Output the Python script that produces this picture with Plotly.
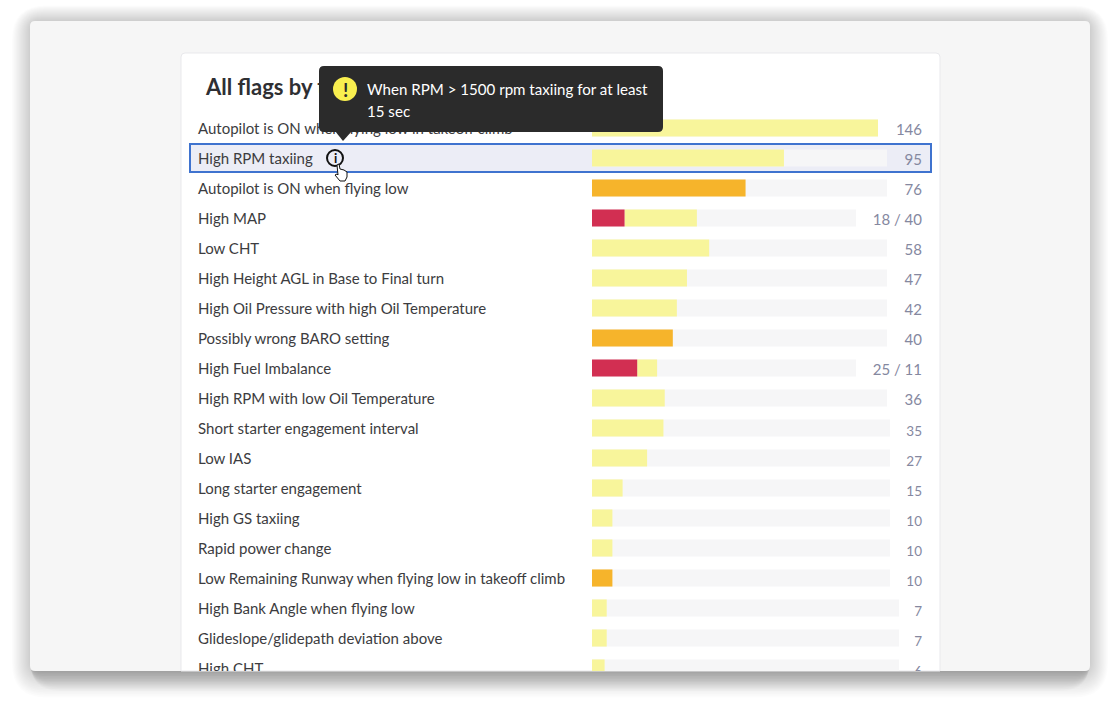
import plotly.graph_objects as go

# ---------- DATA ----------
flags = [
    "Autopilot is ON when flying low in takeoff climb",
    "High RPM taxiing",
    "Autopilot is ON when flying low",
    "High MAP",
    "Low CHT",
    "High Height AGL in Base to Final turn",
    "High Oil Pressure with high Oil Temperature",
    "Possibly wrong BARO setting",
    "High Fuel Imbalance",
    "High RPM with low Oil Temperature",
    "Short starter engagement interval",
    "Low IAS",
    "Long starter engagement",
    "High GS taxiing",
    "Rapid power change",
    "Low Remaining Runway when flying low in takeoff climb",
    "High Bank Angle when flying low",
    "Glideslope/glidepath deviation above",
    "High CHT",
]
red_counts = [0, 0, 0, 18, 0, 0, 0, 0, 25, 0, 0, 0, 0, 0, 0, 0, 0, 0, 0]
orange_counts = [0, 0, 76, 0, 0, 0, 0, 40, 0, 0, 0, 0, 0, 0, 0, 10, 0, 0, 0]
yellow_counts = [146, 95, 0, 40, 58, 47, 42, 0, 11, 36, 35, 27, 15, 10, 10, 0, 7, 7, 6]
count_labels = ["146", "95", "76", "18 / 40", "58", "47", "42", "40", "25 / 11", "36",
                "35", "27", "15", "10", "10", "10", "7", "7", "6"]

# ---------- STYLE ----------
# every row scales to its own track, which shrinks with the width of its label
track_px = [286, 295, 295, 264, 295, 295, 295, 295, 264, 295,
            298, 298, 298, 298, 298, 298, 307, 307, 307]
label_sizes = [15] * 10 + [13.5] * 9
MAX_COUNT = 146
W, H = 1120, 712
FONT = "Lato"
DARK = "#2b2b2b"


def px(v):
    return v / W


def py(v):
    return 1 - v / H


def rounded(x0, y0, x1, y1, r):
    x0, x1 = px(x0), px(x1)
    y0, y1 = py(y0), py(y1)
    rx, ry = r / W, r / H
    return (
        f"M{x0 + rx},{y0} L{x1 - rx},{y0} Q{x1},{y0} {x1},{y0 - ry} "
        f"L{x1},{y1 + ry} Q{x1},{y1} {x1 - rx},{y1} "
        f"L{x0 + rx},{y1} Q{x0},{y1} {x0},{y1 + ry} "
        f"L{x0},{y0 - ry} Q{x0},{y0} {x0 + rx},{y0} Z"
    )


def polygon(points):
    coords = [f"{px(a)},{py(b)}" for a, b in points]
    return "M" + " L".join(coords) + " Z"


def paper_shape(path, fill, layer="below", line=None, width=0, opacity=1):
    return dict(
        type="path", xref="paper", yref="paper", path=path, fillcolor=fill,
        layer=layer, opacity=opacity,
        line=dict(color=line or "rgba(0,0,0,0)", width=width),
    )


def scaled(counts):
    return [t * c / MAX_COUNT for t, c in zip(track_px, counts)]


rows = list(range(len(flags)))
red_len = scaled(red_counts)
orange_len = scaled(orange_counts)
yellow_len = scaled(yellow_counts)

fig = go.Figure()
# ---------- BARS ----------
bar_style = dict(y=rows, orientation="h", width=0.57, hoverinfo="skip", showlegend=False)
fig.add_trace(go.Bar(x=track_px, marker=dict(color="#f6f6f7", line_width=0), **bar_style))
fig.add_trace(go.Bar(x=yellow_len, base=red_len, marker=dict(color="#f8f59b", line_width=0), **bar_style))
fig.add_trace(go.Bar(x=red_len, marker=dict(color="#d22f52", line_width=0), **bar_style))
fig.add_trace(go.Bar(x=orange_len, marker=dict(color="#f6b42b", line_width=0), **bar_style))

# ---------- TEXT (traces, so the panel edge and the tooltip cut them) ----------
fig.add_trace(go.Scatter(
    x=[-394] * len(flags), y=[r + 0.06 for r in rows], text=flags, mode="text", textposition="middle right",
    textfont=dict(family=FONT, size=15, color="#3c3c40"),
    hoverinfo="skip", showlegend=False,
))
fig.add_trace(go.Scatter(
    x=[330] * len(flags), y=[r + (0.1 if r < 10 else 0.14) for r in rows], text=count_labels, mode="text",
    textposition="middle left",
    textfont=dict(family=FONT, size=label_sizes, color="#85889f"),
    hoverinfo="skip", showlegend=False,
))
fig.add_trace(go.Scatter(
    x=[-386], y=[-1.27], text=["All flags by t"], mode="text", textposition="middle right",
    textfont=dict(family=FONT, size=22, color="#2f2f33", weight="bold"),
    hoverinfo="skip", showlegend=False,
))

# ---------- PANEL, CARD, HIGHLIGHT ----------
shapes = []
for step in range(16):
    grow = 24 - step * 1.5
    shapes.append(paper_shape(
        rounded(30 - grow * 0.75, 21 - grow * 0.65, 1090 + grow * 0.75, 671 + grow * 1.1, 10 + grow),
        "#000000", opacity=0.012,
    ))
for step in range(14):
    grow = 20 - step * 1.5
    shapes.append(paper_shape(
        rounded(30, 640, 1090, 671 + grow, 10 + grow), "#000000", opacity=0.014,
    ))
shapes.append(paper_shape(rounded(30, 21, 1090, 671, 5), "#f6f6f6"))
shapes.append(paper_shape(
    f"M{px(181)},{py(671)} L{px(181)},{py(57)} Q{px(181)},{py(53)} {px(185)},{py(53)} "
    f"L{px(936)},{py(53)} Q{px(940)},{py(53)} {px(940)},{py(57)} L{px(940)},{py(671)} Z",
    "#ffffff", line="#e9e9ec", width=1,
))
shapes.append(paper_shape(polygon([(190, 144), (931, 144), (931, 172), (190, 172)]), "#ecedf6",
                          line="#3f73cf", width=2))

# ---------- TOOLTIP AND ICONS ----------
shapes.append(paper_shape(rounded(319, 66, 663, 132, 5), DARK, layer="above"))
shapes.append(paper_shape(polygon([(335, 131), (352, 131), (343, 141)]), DARK, layer="above"))
shapes.append(dict(type="circle", xref="paper", yref="paper", layer="above",
                   x0=px(333), x1=px(357), y0=py(77), y1=py(101),
                   fillcolor="#f9ef4f", line_width=0))
shapes.append(dict(type="circle", xref="paper", yref="paper", layer="above",
                   x0=px(327), x1=px(343), y0=py(150), y1=py(166),
                   fillcolor="rgba(0,0,0,0)", line=dict(color="#111111", width=2)))
hand = [(337, 165), (339, 164), (340, 169), (344, 170), (347, 172), (347, 177),
        (345, 181), (340, 181), (335, 175), (337, 174), (338, 175)]
shapes.append(paper_shape(polygon(hand), "#ffffff", layer="above", line="#111111", width=1))


def note(x, y, text, size=15, color="#ffffff", weight="normal", anchor="left"):
    return dict(
        xref="paper", yref="paper", x=px(x), y=py(y), text=text, showarrow=False,
        xanchor=anchor, yanchor="middle",
        font=dict(family=FONT, size=size, color=color, weight=weight),
    )


annotations = [
    note(365, 89, "When RPM &gt; 1500 rpm taxiing for at least", size=15.1),
    note(365, 111, "15 sec", size=15.1),
    note(345, 89, "!", size=19, color=DARK, weight="bold", anchor="center"),
    note(335, 158, "i", size=13, color="#111111", weight="bold", anchor="center"),
]

# ---------- LAYOUT ----------
fig.update_layout(
    width=W, height=H, margin=dict(l=0, r=0, t=0, b=0),
    barmode="overlay", paper_bgcolor="#ffffff", plot_bgcolor="rgba(0,0,0,0)",
    shapes=shapes, annotations=annotations, hovermode=False,
    font=dict(family=FONT),
    # one x unit is one pixel with bars starting at 592; one y unit is one 30 px row
    xaxis=dict(range=[-592, 528], visible=False, fixedrange=True),
    yaxis=dict(range=[18.1, -4.267], domain=[1 - 671 / H, 1], visible=False, fixedrange=True),
)

fig.write_html("out.html", config={"displayModeBar": False},
               post_script="document.body.style.margin='0';document.body.style.overflow='hidden';")
